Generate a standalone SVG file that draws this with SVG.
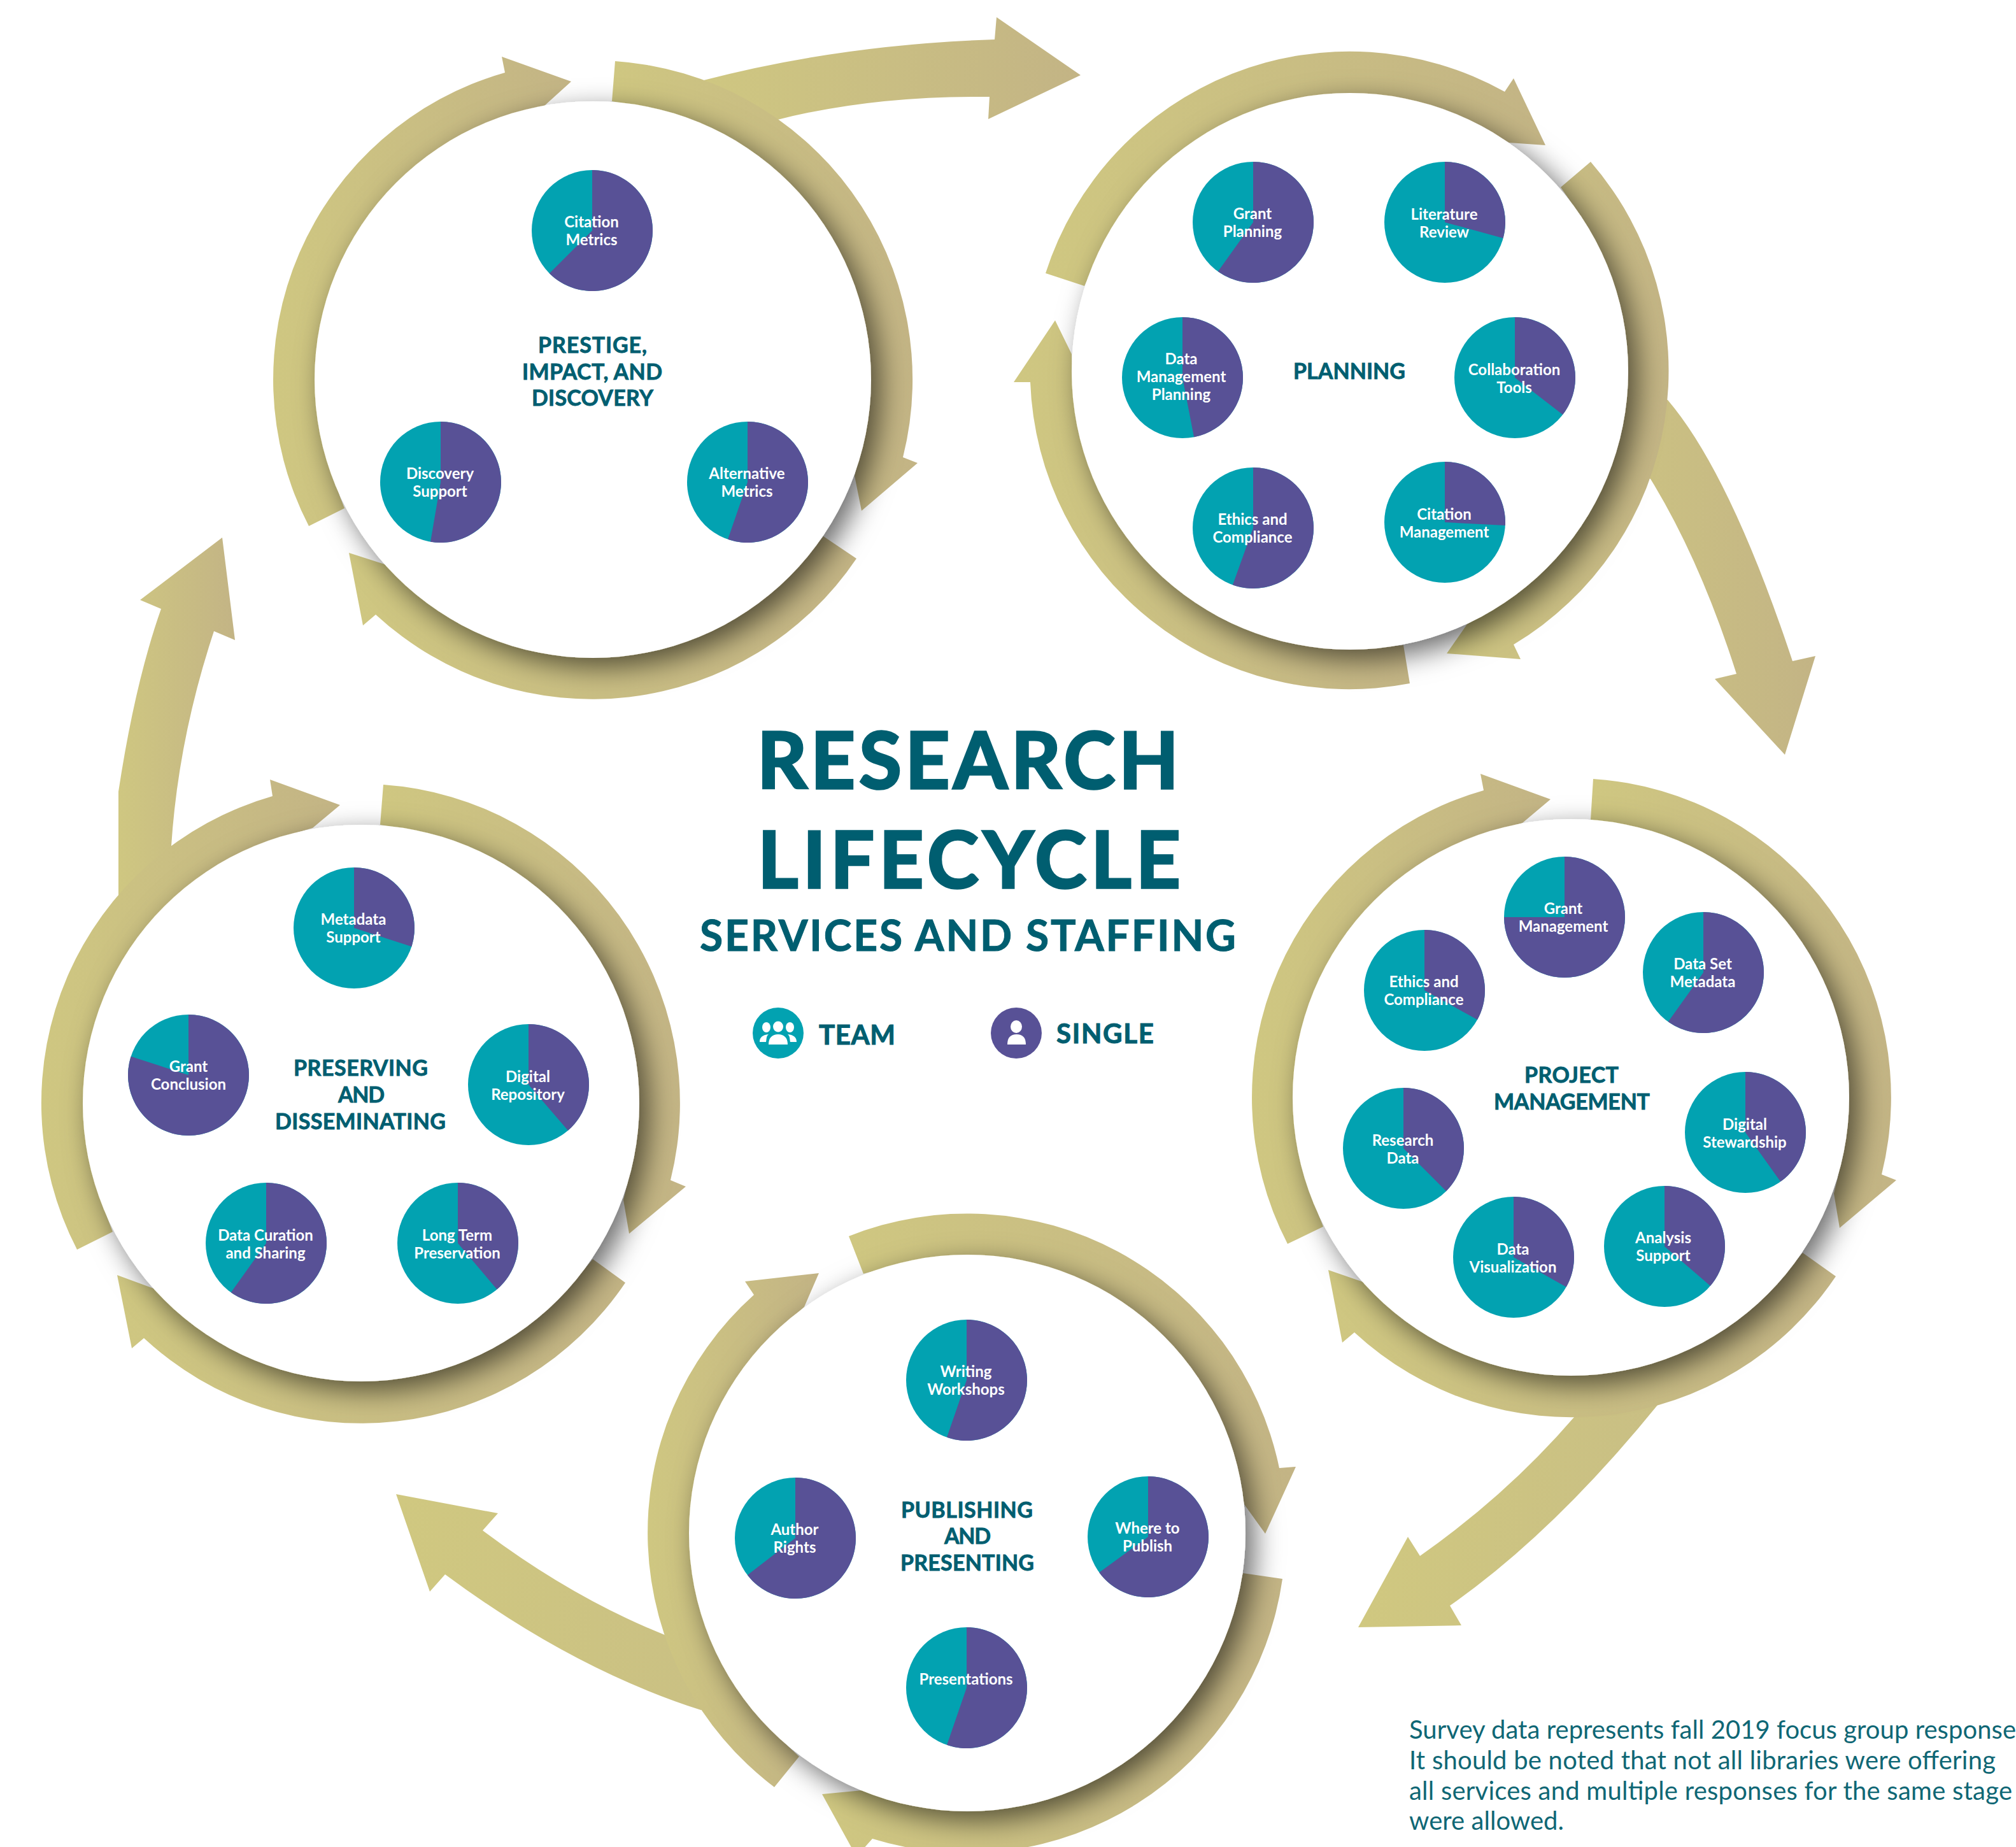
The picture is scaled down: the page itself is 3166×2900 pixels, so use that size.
<svg xmlns="http://www.w3.org/2000/svg" width="3166" height="2900" viewBox="0 0 3166 2900">
<defs>
<linearGradient id="g"><stop offset="0" stop-color="#cfc781"/><stop offset="1" stop-color="#c3b485"/></linearGradient>
<linearGradient id="g2"><stop offset="0" stop-color="#d0c880"/><stop offset="1" stop-color="#c9bf84"/></linearGradient>
<filter id="sh" x="-20%" y="-20%" width="140%" height="140%"><feDropShadow dx="14" dy="14" stdDeviation="22" flood-color="#000" flood-opacity="0.58"/></filter>
<circle id="pc" r="95" fill="#02a2b1"/>
</defs>
<style>
.r{fill:url(#g)}
.r2{fill:url(#g2)}
.w{fill:#fff;filter:url(#sh)}
.p{fill:#585196}
text{font-family:Lato,"Liberation Sans",sans-serif}
.l{font-size:24px;font-weight:700;fill:#fff;text-anchor:middle}
.t{font-size:34px;font-weight:700;fill:#005e70;stroke:#005e70;stroke-width:.8px}
.h{font-weight:700;fill:#005e70;stroke:#005e70;stroke-width:1px}
.b{stroke-width:3.5px}
.f{font-size:40px;font-weight:400;fill:#0f6775}
</style>
<rect width="3166" height="2900" fill="#fff"/>
<g id="connectors">
<path class="r" d="M1105 126Q1320 70 1562 62L1565 27L1697 118L1552 187L1554 152Q1370 150 1221 188L1150 300Z"/>
<path class="r" d="M2619 628Q2717 743 2815 1038L2851 1030L2803 1185L2693 1066L2727 1058Q2670 879 2592 752L2450 700L2500 600Z"/>
<path class="r2" d="M2473 2224Q2368 2346 2230 2443L2211 2413L2133 2555L2295 2552L2277 2521Q2440 2407 2604 2205L2520 2120L2440 2130Z"/>
<path class="r2" d="M622 2346L782 2376L758 2403Q899 2509 1044 2567L1120 2560L1180 2640L1101 2685Q900 2621 699 2472L675 2499Z"/>
<path class="r" d="M186 1407L186 1243Q212 1072 253 956L220 942L349 844L369 1005L336 991Q280 1160 269 1328L300 1420Z"/>
</g>
<g id="title">
<text class="h b" font-size="122" x="1189" y="1238" textLength="662">RESEARCH</text>
<text class="h b" font-size="122" x="1190" y="1394" textLength="664">LIFECYCLE</text>
<text class="h" stroke-width="1.500" font-size="66" x="1099" y="1493" textLength="842">SERVICES AND STAFFING</text>
</g>
<g id="legend-team">
<circle cx="1222" cy="1622" r="40" fill="#02a2b1"/>
<g fill="#fff"><ellipse cx="1222" cy="1612" rx="8" ry="8.5"/><ellipse cx="1203.5" cy="1613" rx="6.5" ry="8"/><ellipse cx="1240.5" cy="1613" rx="6.5" ry="8"/>
<path d="M1207 1640C1207 1629 1213 1624 1222 1624C1231 1624 1237 1629 1237 1640Z"/><path d="M1193 1636C1193 1629 1197 1625 1207 1624C1203 1627 1204 1632 1203 1636Z"/><path d="M1251 1636C1251 1629 1247 1625 1237 1624C1241 1627 1240 1632 1241 1636Z"/></g>
<text class="h" font-size="42" x="1286" y="1640" textLength="120">TEAM</text>
</g>
<g id="legend-single">
<circle cx="1596" cy="1622" r="40" fill="#585196"/>
<g fill="#fff"><ellipse cx="1596" cy="1612" rx="9" ry="10"/><path d="M1582 1640C1582 1629 1587 1624 1596.500 1624C1606 1624 1611 1629 1611 1640Z"/></g>
<text class="h" font-size="42" x="1659" y="1638" textLength="153">SINGLE</text>
</g>

<g id="prestige">
<path class="r" d="M485 826A501 501 0 0 1 793 114L788 89L897 128L855 166A470 470 0 0 0 541 798Z"/>
<path class="r" d="M966 96A501 501 0 0 1 1418 718L1441 727L1353 802L1342 747A470 470 0 0 0 961 159Z"/>
<path class="r" d="M1345 877A501 501 0 0 1 590 965L570 982L548 868L604 886A470 470 0 0 0 1293 842Z"/>
<circle class="w" cx="931" cy="596" r="437"/>
<text class="t" x="845" y="554" textLength="171">PRESTIGE,</text>
<text class="t" x="820" y="596" textLength="220">IMPACT, AND</text>
<text class="t" x="835" y="637" textLength="191">DISCOVERY</text>
<g transform="translate(930,362)"><use href="#pc"/><path class="p" d="M0 0V-95A95 95 0 1 1 -67.18 67.18Z"/><text class="l" x="-1" y="-5">Citation</text><text class="l" x="-1" y="23">Metrics</text></g>
<g transform="translate(692,757)"><use href="#pc"/><path class="p" d="M0 0V-95A95 95 0 1 1 -15.94 93.66Z"/><text class="l" x="-1" y="-5">Discovery</text><text class="l" x="-1" y="23">Support</text></g>
<g transform="translate(1174,757)"><use href="#pc"/><path class="p" d="M0 0V-95A95 95 0 1 1 -30.94 89.82Z"/><text class="l" x="-1" y="-5">Alternative</text><text class="l" x="-1" y="23">Metrics</text></g>
</g>

<g id="planning">
<path class="r" d="M1642 429A501 501 0 0 1 2363 144L2377 123L2427 228L2370 224A470 470 0 0 0 1703 449Z"/>
<path class="r" d="M2498 254A501 501 0 0 1 2377 1012L2388 1035L2272 1026L2304 980A470 470 0 0 0 2451 294Z"/>
<path class="r" d="M2214 1073A501 501 0 0 1 1618 600L1592 600L1657 503L1683 556A470 470 0 0 0 2204 1013Z"/>
<circle class="w" cx="2120" cy="583" r="437"/>
<text class="t" x="2031" y="595" textLength="176">PLANNING</text>
<g transform="translate(1968,349)"><use href="#pc"/><path class="p" d="M0 0V-95A95 95 0 1 1 -55.21 77.3Z"/><text class="l" x="-1" y="-5">Grant</text><text class="l" x="-1" y="23">Planning</text></g>
<g transform="translate(2269,349)"><use href="#pc"/><path class="p" d="M0 0V-95A95 95 0 0 1 91.67 24.91Z"/><text class="l" x="-1" y="-4">Literature</text><text class="l" x="-1" y="24">Review</text></g>
<g transform="translate(1857,593)"><use href="#pc"/><path class="p" d="M0 0V-95A95 95 0 0 1 18.05 93.27Z"/><text class="l" x="-2" y="-21">Data</text><text class="l" x="-2" y="7">Management</text><text class="l" x="-2" y="35">Planning</text></g>
<g transform="translate(2379,593)"><use href="#pc"/><path class="p" d="M0 0V-95A95 95 0 0 1 75.15 58.12Z"/><text class="l" x="-1" y="-4">Collaboration</text><text class="l" x="-1" y="24">Tools</text></g>
<g transform="translate(1968,829)"><use href="#pc"/><path class="p" d="M0 0V-95A95 95 0 1 1 -32.14 89.4Z"/><text class="l" x="-1" y="-5">Ethics and</text><text class="l" x="-1" y="23">Compliance</text></g>
<g transform="translate(2269,820)"><use href="#pc"/><path class="p" d="M0 0V-95A95 95 0 0 1 94.87 4.99Z"/><text class="l" x="-1" y="-4">Citation</text><text class="l" x="-1" y="24">Management</text></g>
</g>

<g id="project-management">
<path class="r" d="M2022 1953A501 501 0 0 1 2330 1241L2325 1215L2435 1255L2391 1292A470 470 0 0 0 2078 1926Z"/>
<path class="r" d="M2502 1223A501 501 0 0 1 2955 1844L2978 1853L2889 1928L2880 1874A470 470 0 0 0 2498 1287Z"/>
<path class="r" d="M2883 2004A501 501 0 0 1 2127 2092L2108 2108L2086 1994L2141 2013A470 470 0 0 0 2831 1967Z"/>
<circle class="w" cx="2467" cy="1723" r="437"/>
<text class="t" x="2394" y="1700" textLength="148">PROJECT</text>
<text class="t" x="2346" y="1742" textLength="245">MANAGEMENT</text>
<g transform="translate(2457,1440)"><use href="#pc"/><path class="p" d="M0 0V-95A95 95 0 1 1 -95 0Z"/><text class="l" x="-2" y="-5">Grant</text><text class="l" x="-2" y="23">Management</text></g>
<g transform="translate(2675,1527)"><use href="#pc"/><path class="p" d="M0 0V-95A95 95 0 1 1 -55.21 77.3Z"/><text class="l" x="-1" y="-5">Data Set</text><text class="l" x="-1" y="23">Metadata</text></g>
<g transform="translate(2237,1555)"><use href="#pc"/><path class="p" d="M0 0V-95A95 95 0 0 1 83.09 46.05Z"/><text class="l" x="-1" y="-5">Ethics and</text><text class="l" x="-1" y="23">Compliance</text></g>
<g transform="translate(2741,1778)"><use href="#pc"/><path class="p" d="M0 0V-95A95 95 0 0 1 55.21 77.3Z"/><text class="l" x="-1" y="-4">Digital</text><text class="l" x="-1" y="24">Stewardship</text></g>
<g transform="translate(2204,1803)"><use href="#pc"/><path class="p" d="M0 0V-95A95 95 0 0 1 67.18 67.18Z"/><text class="l" x="-1" y="-4">Research</text><text class="l" x="-1" y="24">Data</text></g>
<g transform="translate(2614,1957)"><use href="#pc"/><path class="p" d="M0 0V-95A95 95 0 0 1 71.99 61.99Z"/><text class="l" x="-2" y="-5">Analysis</text><text class="l" x="-2" y="23">Support</text></g>
<g transform="translate(2377,1974)"><use href="#pc"/><path class="p" d="M0 0V-95A95 95 0 0 1 82.67 46.81Z"/><text class="l" x="-1" y="-4">Data</text><text class="l" x="-1" y="24">Visualization</text></g>
</g>

<g id="publishing">
<path class="r" d="M1333 1941A501 501 0 0 1 2009 2305L2035 2303L1987 2408L1954 2362A470 470 0 0 0 1356 2000Z"/>
<path class="r" d="M2014 2479A501 501 0 0 1 1370 2887L1345 2915L1291 2817L1354 2811A470 470 0 0 0 1952 2470Z"/>
<path class="r" d="M1216 2806A501 501 0 0 1 1184 2033L1170 2012L1286 1999L1263 2052A470 470 0 0 0 1255 2758Z"/>
<circle class="w" cx="1519" cy="2407" r="437"/>
<text class="t" x="1415" y="2383" textLength="207">PUBLISHING</text>
<text class="t" x="1483" y="2424" textLength="73">AND</text>
<text class="t" x="1414" y="2466" textLength="210">PRESENTING</text>
<g transform="translate(1518,2167)"><use href="#pc"/><path class="p" d="M0 0V-95A95 95 0 1 1 -30.94 89.82Z"/><text class="l" x="-1" y="-5">Writing</text><text class="l" x="-1" y="23">Workshops</text></g>
<g transform="translate(1249,2415)"><use href="#pc"/><path class="p" d="M0 0V-95A95 95 0 1 1 -75.15 58.12Z"/><text class="l" x="-1" y="-5">Author</text><text class="l" x="-1" y="23">Rights</text></g>
<g transform="translate(1803,2413)"><use href="#pc"/><path class="p" d="M0 0V-95A95 95 0 1 1 -76.83 55.88Z"/><text class="l" x="-1" y="-5">Where to</text><text class="l" x="-1" y="23">Publish</text></g>
<g transform="translate(1518,2650)"><use href="#pc"/><path class="p" d="M0 0V-95A95 95 0 1 1 -30.94 89.82Z"/><text class="l" x="-1" y="-5">Presentations</text></g>
</g>

<g id="preserving">
<path class="r" d="M121 1962A501 501 0 0 1 428 1250L424 1224L534 1264L491 1300A470 470 0 0 0 177 1934Z"/>
<path class="r" d="M602 1232A501 501 0 0 1 1053 1853L1077 1863L988 1937L979 1884A470 470 0 0 0 597 1295Z"/>
<path class="r" d="M982 2014A501 501 0 0 1 226 2101L207 2117L184 2002L241 2023A470 470 0 0 0 931 1977Z"/>
<circle class="w" cx="567" cy="1732" r="437"/>
<text class="t" x="461" y="1689" textLength="211">PRESERVING</text>
<text class="t" x="531" y="1731" textLength="73">AND</text>
<text class="t" x="432" y="1773" textLength="268">DISSEMINATING</text>
<g transform="translate(556,1457)"><use href="#pc"/><path class="p" d="M0 0V-95A95 95 0 0 1 90.42 29.14Z"/><text class="l" x="-1" y="-5">Metadata</text><text class="l" x="-1" y="23">Support</text></g>
<g transform="translate(296,1688)"><use href="#pc"/><path class="p" d="M0 0V-95A95 95 0 1 1 -90.42 -29.14Z"/><text class="l" x="0" y="-5">Grant</text><text class="l" x="0" y="23">Conclusion</text></g>
<g transform="translate(830,1703)"><use href="#pc"/><path class="p" d="M0 0V-95A95 95 0 0 1 61.99 71.99Z"/><text class="l" x="-1" y="-4">Digital</text><text class="l" x="-1" y="24">Repository</text></g>
<g transform="translate(418,1952)"><use href="#pc"/><path class="p" d="M0 0V-95A95 95 0 1 1 -55.21 77.3Z"/><text class="l" x="-1" y="-4">Data Curation</text><text class="l" x="-1" y="24">and Sharing</text></g>
<g transform="translate(719,1952)"><use href="#pc"/><path class="p" d="M0 0V-95A95 95 0 0 1 61.41 72.48Z"/><text class="l" x="-1" y="-4">Long Term</text><text class="l" x="-1" y="24">Preservation</text></g>
</g>

<g id="note">
<text class="f" x="2213" y="2730" textLength="953">Survey data represents fall 2019 focus group response</text>
<text class="f" x="2213" y="2778" textLength="921">It should be noted that not all libraries were offering</text>
<text class="f" x="2213" y="2826" textLength="947">all services and multiple responses for the same stage</text>
<text class="f" x="2213" y="2873" textLength="243">were allowed.</text>
</g>
</svg>
